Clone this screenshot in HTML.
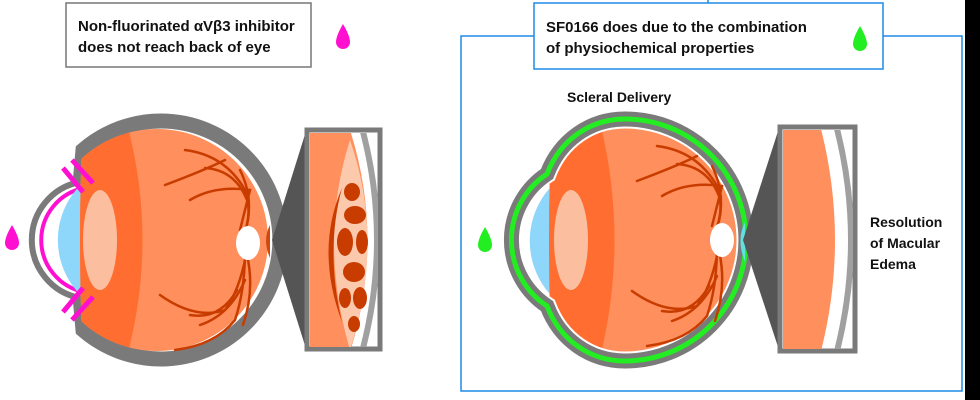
<!DOCTYPE html>
<html><head><meta charset="utf-8"><style>
html,body{margin:0;padding:0;background:#fff;}
svg{display:block;font-family:"Liberation Sans",Arial,sans-serif;}
</style></head><body>
<svg width="980" height="400" viewBox="0 0 980 400" xmlns="http://www.w3.org/2000/svg">
<defs>
<clipPath id="c1"><path d="M84,100 L300,100 L300,380 L84,380 Q76,240 84,100Z"/></clipPath>
<clipPath id="o1"><circle cx="157" cy="240" r="111"/></clipPath>
<clipPath id="c2"><path d="M553,100 L760,100 L760,380 L553,380 Q545,240 553,100Z"/></clipPath>
<path id="outl" d="M547,174 C560,140 590,119 625,119 A121,121 0 0 1 625,361 C590,361 560,340 547,306 A79,79 0 0 1 547,174Z"/>
<clipPath id="o2"><use href="#outl"/></clipPath>
<clipPath id="b1"><rect x="310" y="133" width="68" height="214"/></clipPath>
<clipPath id="b2"><rect x="783" y="130" width="70" height="219"/></clipPath>
<g id="vessels" fill="none" stroke="#c83c00" stroke-width="2.5" stroke-linecap="round">
<path d="M-55,-40 Q-30,-55 5,-50 Q0,-30 -5,-10"/>
<path d="M-80,-55 Q-40,-70 -20,-80"/>
<path d="M-60,-90 Q-20,-85 0,-50 Q8,-25 -2,-5"/>
<path d="M-40,-72 Q-10,-70 2,-40"/>
<path d="M-5,-70 Q10,-40 0,-8"/>
<path d="M-70,110 Q-30,105 -10,80 Q0,50 0,10"/>
<path d="M-85,55 Q-50,80 -20,70 Q-5,50 2,10"/>
<path d="M-55,75 Q-25,80 -8,50"/>
<path d="M-45,85 Q-15,75 0,40"/>
<path d="M-2,85 Q10,50 2,15"/>
</g>
</defs>

<rect x="965" y="0" width="15" height="400" fill="#000"/>

<!-- LEFT -->
<rect x="66" y="3" width="245" height="64" fill="#fff" stroke="#777" stroke-width="1.5"/>
<text x="78" y="31" font-size="15" font-weight="bold" fill="#111">Non-fluorinated αVβ3 inhibitor</text>
<text x="78" y="52" font-size="15" font-weight="bold" fill="#111">does not reach back of eye</text>
<path d="M343,24 Q336,36 336,42 A7,7 0 0 0 350,42 Q350,36 343,24Z" fill="#ff10d0"/>

<!-- left eye -->
<path d="M80,184 L83,150 A119,119 0 1 1 83,330 L80,296" fill="none" stroke="#7a7a7a" stroke-width="15"/>
<path d="M80,182 A59,59 0 0 0 80,298" fill="none" stroke="#7a7a7a" stroke-width="6"/>
<path d="M84,188 A53,53 0 0 0 84,292" fill="none" stroke="#ff10d0" stroke-width="4"/>
<path d="M86,180 A78,78 0 0 0 86,300 Q80,240 86,180Z" fill="#8fd6fb"/>
<g clip-path="url(#c1)"><g clip-path="url(#o1)">
<rect x="40" y="100" width="260" height="280" fill="#ff8f5c"/>
<path d="M0,100 L120,100 Q165,240 120,380 L0,380Z" fill="#ff6e30"/>
</g></g>
<ellipse cx="100" cy="240" rx="17" ry="50" fill="#fbbfa0"/>
<use href="#vessels" transform="translate(245,240)"/>
<ellipse cx="248" cy="243" rx="12" ry="17" fill="#fff"/>
<path d="M270,225 Q262,240 270,258 Z" fill="#d04a10"/>
<line x1="63" y1="168" x2="83" y2="192" stroke="#ff10d0" stroke-width="5"/>
<line x1="72" y1="160" x2="93" y2="183" stroke="#ff10d0" stroke-width="5"/>
<line x1="63" y1="312" x2="83" y2="288" stroke="#ff10d0" stroke-width="5"/>
<line x1="72" y1="320" x2="93" y2="297" stroke="#ff10d0" stroke-width="5"/>
<path d="M12,225 Q5,237 5,243 A7,7 0 0 0 19,243 Q19,237 12,225Z" fill="#ff10d0"/>
<!-- left zoom box -->
<path d="M272,240 L307,128 L307,352 Z" fill="#555"/>
<rect x="307" y="130" width="73" height="219" fill="#fff" stroke="#7a7a7a" stroke-width="5"/>
<g clip-path="url(#b1)">
<path d="M300,130 L350,130 Q385,240 350,352 L300,352Z" fill="#ff8f5c"/>
<path d="M362,128 Q392,240 362,352" fill="none" stroke="#a0a0a0" stroke-width="6"/>
<path d="M350,140 Q385,240 350,350 Q318,240 350,140Z" fill="#fcc9ad"/>
<path d="M342,188 Q315,250 342,322 Q325,250 342,188Z" fill="#c83c00"/>
<ellipse cx="352" cy="192" rx="8" ry="9" fill="#c83c00"/>
<ellipse cx="355" cy="215" rx="11" ry="9" fill="#c83c00"/>
<ellipse cx="345" cy="242" rx="8" ry="14" fill="#c83c00"/>
<ellipse cx="362" cy="242" rx="6" ry="12" fill="#c83c00"/>
<ellipse cx="354" cy="272" rx="11" ry="10" fill="#c83c00"/>
<ellipse cx="345" cy="298" rx="6" ry="10" fill="#c83c00"/>
<ellipse cx="360" cy="298" rx="7" ry="11" fill="#c83c00"/>
<ellipse cx="354" cy="324" rx="6" ry="8" fill="#c83c00"/>
</g>

<!-- RIGHT -->
<rect x="461" y="36" width="501" height="355" fill="none" stroke="#1e8ae6" stroke-width="1.5"/>
<line x1="708" y1="0" x2="708" y2="3" stroke="#1e8ae6" stroke-width="1.5"/>
<rect x="534" y="3" width="349" height="66" fill="#fff" stroke="#1e8ae6" stroke-width="1.5"/>
<text x="546" y="32" font-size="15" font-weight="bold" fill="#111">SF0166 does due to the combination</text>
<text x="546" y="53" font-size="15" font-weight="bold" fill="#111">of physiochemical properties</text>
<path d="M860,26 Q853,38 853,44 A7,7 0 0 0 867,44 Q867,38 860,26Z" fill="#22ee22"/>
<text x="567" y="102" font-size="14" font-weight="bold" fill="#111">Scleral Delivery</text>

<!-- right eye -->
<use href="#outl" fill="#fff"/>
<path d="M558,180 A80,80 0 0 0 558,302 Q552,240 558,180Z" fill="#8fd6fb"/>
<g clip-path="url(#c2)"><g clip-path="url(#o2)">
<rect x="500" y="100" width="260" height="280" fill="#ff8f5c"/>
<path d="M400,100 L594,100 Q635,240 594,380 L400,380Z" fill="#ff6e30"/>
</g></g>
<use href="#outl" fill="none" stroke="#fff" stroke-width="19"/>
<use href="#outl" fill="none" stroke="#7a7a7a" stroke-width="15"/>
<use href="#outl" fill="none" stroke="#22ee22" stroke-width="5"/>
<ellipse cx="571" cy="240" rx="17" ry="50" fill="#fbbfa0"/>
<use href="#vessels" transform="translate(717,236)"/>
<ellipse cx="722" cy="240" rx="12" ry="17" fill="#fff"/>
<path d="M745,222 Q736,240 745,262 Z" fill="#60e0e0"/>
<path d="M485,227 Q478,239 478,245 A7,7 0 0 0 492,245 Q492,239 485,227Z" fill="#22ee22"/>
<!-- right zoom box -->
<path d="M743,240 L780,125 L780,353 Z" fill="#555"/>
<rect x="780" y="127" width="75" height="224" fill="#fff" stroke="#7a7a7a" stroke-width="5"/>
<g clip-path="url(#b2)">
<path d="M770,125 L820,125 Q850,240 820,355 L770,355Z" fill="#ff8f5c"/>
<path d="M836,125 Q866,240 836,355" fill="none" stroke="#a0a0a0" stroke-width="6"/>
</g>
<text x="870" y="227" font-size="14" font-weight="bold" fill="#111">Resolution</text>
<text x="870" y="248" font-size="14" font-weight="bold" fill="#111">of Macular</text>
<text x="870" y="269" font-size="14" font-weight="bold" fill="#111">Edema</text>
</svg>
</body></html>
